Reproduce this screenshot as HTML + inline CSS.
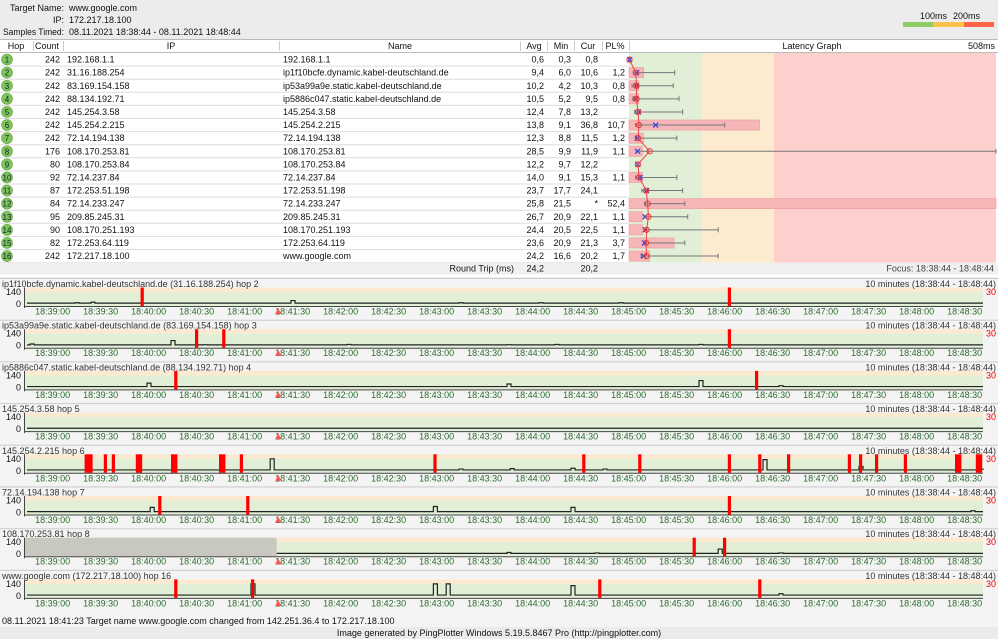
<!DOCTYPE html>
<html><head><meta charset="utf-8"><style>
body{margin:0;background:#f0f0f0;}
svg{display:block;font-family:"Liberation Sans",sans-serif;}
</style></head><body>
<svg id="s" width="998" height="639" xmlns="http://www.w3.org/2000/svg"></svg>
<script>
// ---------- DATA ----------
const hops=[1,2,3,4,5,6,7,8,9,10,11,12,13,14,15,16];
const counts=[242,242,242,242,242,242,242,176,80,92,87,84,95,90,82,242];
const ips=["192.168.1.1","31.16.188.254","83.169.154.158","88.134.192.71","145.254.3.58","145.254.2.215","72.14.194.138","108.170.253.81","108.170.253.84","72.14.237.84","172.253.51.198","72.14.233.247","209.85.245.31","108.170.251.193","172.253.64.119","172.217.18.100"];
const names=["192.168.1.1","ip1f10bcfe.dynamic.kabel-deutschland.de","ip53a99a9e.static.kabel-deutschland.de","ip5886c047.static.kabel-deutschland.de","145.254.3.58","145.254.2.215","72.14.194.138","108.170.253.81","108.170.253.84","72.14.237.84","172.253.51.198","72.14.233.247","209.85.245.31","108.170.251.193","172.253.64.119","www.google.com"];
const avgs=["0,6","9,4","10,2","10,5","12,4","13,8","12,3","28,5","12,2","14,0","23,7","25,8","26,7","24,4","23,6","24,2"];
const mins=["0,3","6,0","4,2","5,2","7,8","9,1","8,8","9,9","9,7","9,1","17,7","21,5","20,9","20,5","20,9","16,6"];
const curs=["0,8","10,6","10,3","9,5","13,2","36,8","11,5","11,9","12,2","15,3","24,1","*","22,1","22,5","21,3","20,2"];
const pls=["","1,2","0,8","0,8","","10,7","1,2","1,1","","1,1","","52,4","1,1","1,1","3,7","1,7"];
const avgMs=[0.6,9.4,10.2,10.5,12.4,13.8,12.3,28.5,12.2,14.0,23.7,25.8,26.7,24.4,23.6,24.2];
const curMs=[0.8,10.6,10.3,9.5,13.2,36.8,11.5,11.9,12.2,15.3,24.1,null,22.1,22.5,21.3,20.2];
const minMs=[0.3,6.0,4.2,5.2,7.8,9.1,8.8,9.9,9.7,9.1,17.7,21.5,20.9,20.5,20.9,16.6];
const maxMs=[1,63,61,69,74,132,66,508,null,66,74,77,81,123,77,123];
const plPct=[0,1.2,0.8,0.8,0,10.7,1.2,1.1,0,1.1,0,52.4,1.1,1.1,3.7,1.7];
// time graphs
const panelTitles=["ip1f10bcfe.dynamic.kabel-deutschland.de (31.16.188.254) hop 2","ip53a99a9e.static.kabel-deutschland.de (83.169.154.158) hop 3","ip5886c047.static.kabel-deutschland.de (88.134.192.71) hop 4","145.254.3.58 hop 5","145.254.2.215 hop 6","72.14.194.138 hop 7","108.170.253.81 hop 8","www.google.com (172.217.18.100) hop 16"];
const tickLabels=["18:39:00","18:39:30","18:40:00","18:40:30","18:41:00","18:41:30","18:42:00","18:42:30","18:43:00","18:43:30","18:44:00","18:44:30","18:45:00","18:45:30","18:46:00","18:46:30","18:47:00","18:47:30","18:48:00","18:48:30"];
const tickSec=[16,46,76,106,136,166,196,226,256,286,316,346,376,406,436,466,496,526,556,586];
// loss spikes: [start second, duration seconds]
const lossSpikes=[
 [[71,2],[438,2]],
 [[105,2],[122,2],[438,2]],
 [[92,2],[455,2]],
 [],
 [[36,5],[48,2],[53,2],[68,4],[90,4],[120,4],[133,2],[254,2],[347,2],[382,2],[438,2],[457,2],[475,2],[513,2],[520,2],[530,2],[548,2],[580,4],[593,4]],
 [[82,2],[137,2],[438,2]],
 [[416,2],[435,2]],
 [[92,2],[140,2],[357,2],[457,2]]
];
// latency blips: [second, ms]
const blips=[
 [[30,15],[40,20],[165,40],[270,15],[320,15],[370,15]],
 [[2,20],[90,60],[110,12],[200,15],[300,12],[330,15],[420,15]],
 [[75,50],[300,40],[420,80],[470,20]],
 [],
 [[38,20],[152,140],[340,30],[302,25],[360,20],[270,20],[460,130],[520,50],[595,20]],
 [[77,60],[254,70],[340,60],[590,20]],
 [[300,20],[355,15],[432,60],[470,15]],
 [[140,140],[254,140],[262,140],[340,120],[470,25]]
];
const grayUntil=[0,0,0,0,0,0,156,0];
const tzoneMs=[100,200];
// ---------- DRAW ----------
const S=document.getElementById('s');const NS="http://www.w3.org/2000/svg";
function el(t,a,txt){const e=document.createElementNS(NS,t);for(const k in a)e.setAttribute(k,a[k]);if(txt!==undefined)e.textContent=txt;S.appendChild(e);return e;}
function tx(x,y,s,o){const a=Object.assign({x:x,y:y,'font-size':9,fill:'#111'},o||{});return el('text',a,s);}
// header
el('rect',{x:0,y:0,width:998,height:39,fill:'#ececec'});
let t;
t=tx(10,11,"Target Name:",{textLength:54,lengthAdjust:'spacingAndGlyphs'});
t=tx(69,11,"www.google.com");
t=tx(64,23,"IP:",{'text-anchor':'end'});
t=tx(69,23,"172.217.18.100");
t=tx(3,35,"Samples Timed:",{textLength:61,lengthAdjust:'spacingAndGlyphs'});
t=tx(69,35,"08.11.2021 18:38:44 - 08.11.2021 18:48:44");
tx(920,19,"100ms");tx(953,19,"200ms");
el('rect',{x:903,y:22,width:30,height:5,fill:'#8fcc63'});el('rect',{x:933,y:22,width:31,height:5,fill:'#fcc24a'});el('rect',{x:964,y:22,width:30,height:5,fill:'#fb6448'});
// table
el('rect',{x:0,y:39,width:998,height:238,fill:'#fff'});
el('line',{x1:0,y1:39.5,x2:998,y2:39.5,stroke:'#bbb'});
const cols=[0,33,63,279,520,547,574,602,629];
cols.slice(1).forEach(c=>el('line',{x1:c+.5,y1:41,x2:c+.5,y2:51,stroke:'#ccc'}));
const hdr=[["Hop",16,'middle'],["Count",47,'middle'],["IP",171,'middle'],["Name",400,'middle'],["Avg",534,'middle'],["Min",561,'middle'],["Cur",588,'middle'],["PL%",615,'middle'],["Latency Graph",812,'middle'],["508ms",995,'end']];
hdr.forEach(h=>{const e=tx(h[1],49,h[0],{'text-anchor':h[2]});});
el('line',{x1:0,y1:52.5,x2:998,y2:52.5,stroke:'#bbb'});
const R0=53,RH=13.1,GX=629,MSX=0.725,GW=368;
const lx=ms=>GX+ms*MSX;
el('rect',{x:GX,y:R0,width:lx(tzoneMs[0])-GX,height:16*RH,fill:'#e0efd6'});
el('rect',{x:lx(tzoneMs[0]),y:R0,width:lx(tzoneMs[1])-lx(tzoneMs[0]),height:16*RH,fill:'#fdebd0'});
el('rect',{x:lx(tzoneMs[1]),y:R0,width:996-lx(tzoneMs[1]),height:16*RH,fill:'#fdd0cd'});
hops.forEach((h,i)=>{
 const y=R0+i*RH, cy=y+RH/2, by=cy+3;
 el('line',{x1:0,y1:y+RH,x2:629,y2:y+RH,stroke:'#ddd'});
 const c=el('circle',{cx:7,cy:cy,r:5.5,fill:'#7fc45a',stroke:'#5fa43e','stroke-width':.6});
 
 tx(7,by,String(h),{'text-anchor':'middle','font-size':8,fill:'#123'});
 tx(60,by,String(counts[i]),{'text-anchor':'end'});
 tx(67,by,ips[i]);tx(283,by,names[i]);
 tx(544,by,avgs[i],{'text-anchor':'end'});tx(571,by,mins[i],{'text-anchor':'end'});
 tx(598,by,curs[i],{'text-anchor':'end'});tx(625,by,pls[i],{'text-anchor':'end'});
 if(plPct[i]>0){const b=el('rect',{x:GX,y:y+1.5,width:Math.min(GW-1,plPct[i]*12.2),height:RH-3,fill:'#f6b6b8',stroke:'#ee9a9c','stroke-width':.6});
  }
 if(maxMs[i]!==null){el('line',{x1:lx(minMs[i]),y1:cy,x2:Math.min(996,lx(maxMs[i])),y2:cy,stroke:'#777','stroke-width':1});
  el('line',{x1:Math.min(996,lx(maxMs[i])),y1:cy-2.5,x2:Math.min(996,lx(maxMs[i])),y2:cy+2.5,stroke:'#777'});
  el('line',{x1:lx(minMs[i]),y1:cy-2,x2:lx(minMs[i]),y2:cy+2,stroke:'#777'});}
 if(curMs[i]!==null){const cx=lx(curMs[i]);el('path',{d:`M${cx-2.5} ${cy-2.5}L${cx+2.5} ${cy+2.5}M${cx+2.5} ${cy-2.5}L${cx-2.5} ${cy+2.5}`,stroke:'#3340e0','stroke-width':1.2});}
});
let pts=avgMs.map((a,i)=>`${lx(a)},${R0+i*RH+RH/2}`).join(' ');
const al=el('polyline',{points:pts,fill:'none',stroke:'#ee4444','stroke-width':1});
avgMs.forEach((a,i)=>el('circle',{cx:lx(a),cy:R0+i*RH+RH/2,r:2.6,fill:'none',stroke:'#e33','stroke-width':1}));
// round trip row
const ry=R0+16*RH;
el('rect',{x:0,y:ry,width:998,height:12,fill:'#f0f0f0'});
tx(514,ry+9,"Round Trip (ms)",{'text-anchor':'end'});tx(544,ry+9,"24,2",{'text-anchor':'end'});tx(598,ry+9,"20,2",{'text-anchor':'end'});
tx(994,ry+9,"Focus: 18:38:44 - 18:48:44",{'text-anchor':'end',fill:'#444'});
// panels
const PX0=24,PX1=983;const px=s=>27+s*1.6;
panelTitles.forEach((title,p)=>{
 const T=278+p*41.7;
 const g=el('rect',{x:0,y:T,width:998,height:41,fill:'#f4f4f4'});
 
 el('line',{x1:0,y1:T+.5,x2:998,y2:T+.5,stroke:'#ccc'});
 const top=T+9.5,gr=T+14,bot=T+28;
 el('rect',{x:PX0,y:top,width:PX1-PX0,height:gr-top,fill:'#fde9d0'});
 el('rect',{x:PX0,y:gr,width:PX1-PX0,height:bot-gr,fill:'#e0efd6'});
 tx(2,T+9,title,{fill:'#333'});
 tx(996,T+9,"10 minutes (18:38:44 - 18:48:44)",{'text-anchor':'end',fill:'#333'});
 const ym=ms=>bot-2-Math.min(ms,150)*(bot-2-gr)/140;
 if(grayUntil[p]>0)el('rect',{x:PX0,y:top,width:px(grayUntil[p])-PX0,height:bot-top,fill:'#c8c8c0'});
 tx(21,gr+3,"140",{'text-anchor':'end'});tx(21,bot+1,"0",{'text-anchor':'end'});
 tx(986,gr+3,"30",{fill:'#e00'});
 const st=grayUntil[p];let d=`M${px(st)} ${ym(10)}`;
 blips[p].slice().sort((a,b)=>a[0]-b[0]).forEach(b=>{if(b[0]<st)return;d+=`H${px(b[0])}V${ym(b[1])}H${px(b[0]+2.5)}V${ym(10)}`;});
 d+=`H${PX1}`;
 const ln=el('path',{d:d,fill:'none',stroke:'#222','stroke-width':1.2});
 lossSpikes[p].forEach(s=>{const r=el('rect',{x:px(s[0]),y:top,width:Math.max(3,s[1]*1.6),height:bot-top,fill:'#f00'});
  });
 el('line',{x1:PX0,y1:bot+.5,x2:PX1,y2:bot+.5,stroke:'#444'});
 el('line',{x1:PX0+.5,y1:top,x2:PX0+.5,y2:bot+2,stroke:'#444'});
 tickLabels.forEach((l,k)=>tx(px(tickSec[k]),bot+8.5,l,{'text-anchor':'middle',fill:'#2a6a2a'}));
 el('path',{d:`M${px(157)-3} ${bot+8}L${px(157)} ${bot+2}L${px(157)+3} ${bot+8}Z`,fill:'#f55'});
});
el('rect',{x:0,y:612,width:998,height:16,fill:'#f4f4f4'});
t=tx(2,624,"08.11.2021 18:41:23 Target name www.google.com changed from 142.251.36.4 to 172.217.18.100");
el('rect',{x:0,y:627,width:998,height:12,fill:'#ebebeb'});
t=tx(499,636,"Image generated by PingPlotter Windows 5.19.5.8467 Pro (http://pingplotter.com)",{'text-anchor':'middle'});
</script>
</body></html>
